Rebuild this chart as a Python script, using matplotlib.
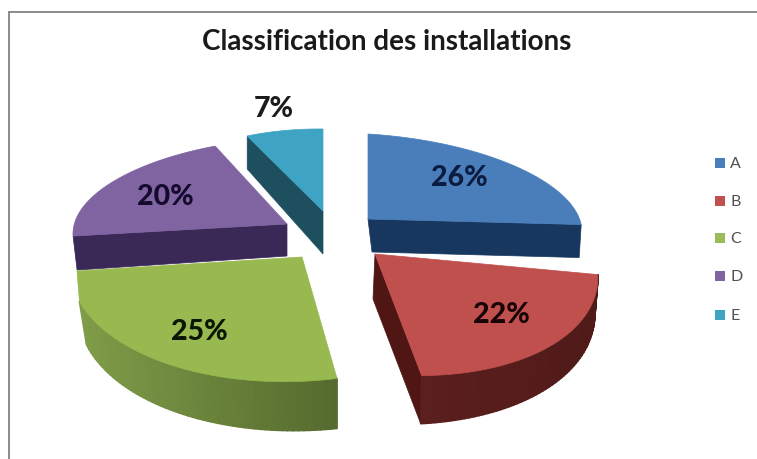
import numpy as np
import matplotlib
matplotlib.use("Agg")
import matplotlib.pyplot as plt
from matplotlib.patches import Polygon, Rectangle
from matplotlib.collections import PolyCollection
from matplotlib.colors import to_rgb

# ---- data ----
title = "Classification des installations"
categories = ["A", "B", "C", "D", "E"]
percent = [26, 22, 25, 20, 7]

# ---- styles ----
top_colors = ["#4a7ebb", "#c0504d", "#98b950", "#8064a2", "#3fa3c4"]
wall_left = ["#17375e", "#5b1f1d", "#7f9c48", "#3c2a58", "#1d4f5e"]
wall_right = ["#17375e", "#4f1a18", "#556a2e", "#3c2a58", "#1d4f5e"]
radial_colors = ["#17375e", "#4f1614", "#556a2e", "#3a2856", "#1d4f5e"]
label_colors = ["#0c1c40", "#180404", "#0a1602", "#140a2e", "#1c1c1c"]
legend_colors = ["#4a7ebb", "#c0504d", "#9bbb59", "#8064a2", "#3fa3c4"]

# projected frame of each exploded slice (pixels): apex, U and V axis vectors
apex = {"A": (368, 220), "B": (375, 255), "C": (302, 258), "D": (287, 225), "E": (323, 212)}
u_axis = {"A": (214, 13), "B": (222, 13), "C": (232, -12.8), "D": (213, -1.2), "E": (178, 1.9)}
v_axis = {"A": (0, -85), "B": (-19, -121), "C": (-6, -124), "D": (20.8, -86.7), "E": (0, -82)}
trim_end = {"A": 8.6, "B": 0, "C": 7.8, "D": 0, "E": 0}
corner = {"C": (77, 272)}
# outer wall: (depth at start, depth at end, x shift at start, x shift at end)
arc_wall = {"B": (35, 48, -3, -1), "C": (50, 43, 0, 7)}
# radial wall: (edge, apex depth, rim depth, apex shift, rim shift)
radial_wall = {"A": ("end", 33, 33, 4, -2), "B": ("end", 45, 48, -2, -1),
               "D": ("start", 32, 34, 0, 4), "E": ("start", 43, 33, 0, 0)}
draw_order = ["E", "D", "A", "C", "B"]
label_pos = [(459, 178), (501, 315), (199, 332), (165, 197), (274, 109)]
legend_y = [164, 202, 239, 277, 316]

fig = plt.figure(figsize=(7.57, 4.60), dpi=100, facecolor="white")
ax = fig.add_axes([0, 0, 1, 1])
ax.set_xlim(0, 757)
ax.set_ylim(460, 0)
ax.axis("off")

ax.plot([8.5, 8.5, 757], [460, 12.5, 12.5], color="#8a8a8a", lw=1.4, solid_joinstyle="miter")

shares = np.array(percent) / sum(percent) * 360
starts = np.concatenate([[0], np.cumsum(shares)[:-1]])


def rim(name, deg):
    t = np.radians(deg)
    c, u, v = (np.array(d[name], float) for d in (apex, u_axis, v_axis))
    s, k = np.sin(t), np.cos(t)
    return c[0] + s * u[0] + k * v[0], c[1] + s * u[1] + k * v[1]


for name in draw_order:
    i = categories.index(name)
    t0, t1 = starts[i], starts[i] + shares[i]
    t1_drawn = t1 - trim_end[name]
    ts = np.linspace(t0, t1_drawn, 60)
    xs, ys = rim(name, ts)
    c = np.array(apex[name], float)

    if name in radial_wall:
        edge, d_a, d_r, s_a, s_r = radial_wall[name]
        px, py = rim(name, t0 if edge == "start" else t1_drawn)
        ax.add_patch(Polygon([c, (px, py), (px + s_r, py + d_r), (c[0] + s_a, c[1] + d_a)],
                             closed=True, fc=radial_colors[i], ec=radial_colors[i], lw=0.5, zorder=1))

    if name in arc_wall:
        d0, d1, s0, s1 = arc_wall[name]
        f = np.linspace(0, 1, len(ts))
        bx, by = xs + s0 + (s1 - s0) * f, ys + d0 + (d1 - d0) * f
        quads = [[(xs[j], ys[j]), (xs[j + 1], ys[j + 1]), (bx[j + 1], by[j + 1]), (bx[j], by[j])]
                 for j in range(len(ts) - 1)]
        # shade from the left side of the wall to the right side
        mid_x = (xs[:-1] + xs[1:]) / 2
        g = (mid_x - mid_x.min()) / (mid_x.max() - mid_x.min())
        a, b = np.array(to_rgb(wall_left[i])), np.array(to_rgb(wall_right[i]))
        cols = [tuple(a + (b - a) * q) for q in g]
        ax.add_collection(PolyCollection(quads, facecolors=cols, edgecolors=cols, linewidths=1.2, zorder=1))

    pts = [c] + list(zip(xs, ys))
    if name in corner:
        pts.append(corner[name])
    ax.add_patch(Polygon(pts, closed=True, fc=top_colors[i], ec=top_colors[i], lw=0.5, zorder=1))

for pct, (x, y), col in zip(percent, label_pos, label_colors):
    ax.text(x, y, f"{pct}%", ha="center", va="center", family="Lato", weight="black",
            fontsize=20.5, color=col, zorder=3)

ax.text(387, 42, title, ha="center", va="center", family="Lato", weight="bold",
        fontsize=20, color="#1a1a1a", zorder=3)

for cat, y, col in zip(categories, legend_y, legend_colors):
    ax.add_patch(Rectangle((715, y - 5), 9.5, 9.5, fc=col, ec="none", zorder=3))
    ax.text(730, y, cat, ha="left", va="center", family="Lato", fontsize=11.5, color="#505050", zorder=3)

fig.savefig("out.png", dpi=100)
